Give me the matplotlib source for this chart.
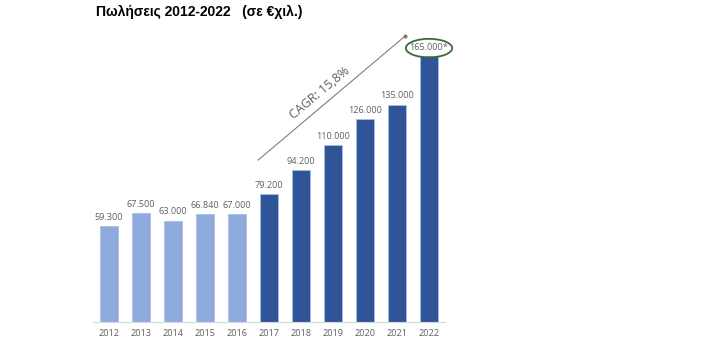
import matplotlib.pyplot as plt
import numpy as np
from matplotlib.patches import Ellipse

# data
years = ["2012", "2013", "2014", "2015", "2016", "2017", "2018", "2019", "2020", "2021", "2022"]
sales = [59300, 67500, 63000, 66840, 67000, 79200, 94200, 110000, 126000, 135000, 165000]
labels = ["59.300", "67.500", "63.000", "66.840", "67.000", "79.200", "94.200",
          "110.000", "126.000", "135.000", "165.000*"]
n_light = 5

LIGHT = "#8faadc"
DARK = "#2f5597"
GREY = "#606060"

plt.rcParams["font.family"] = ["Open Sans", "DejaVu Sans"]

fig = plt.figure(figsize=(7.15, 3.59), dpi=100)
W, H = 715, 359
left, right, bottom, top = 93, 445, 322, 32
ax = fig.add_axes([left / W, 1 - bottom / H, (right - left) / W, (bottom - top) / H])

x = np.arange(len(years))
colors = [LIGHT if i < n_light else DARK for i in range(len(years))]
ax.bar(x, sales, width=0.55, color=colors, edgecolor="#a9bfe6", linewidth=0.6, zorder=2)

for xi, v, lab in zip(x, sales, labels):
    ax.annotate(lab, (xi, v), xytext=(0, 3), textcoords="offset points",
                ha="center", va="bottom", fontsize=6.6, color=GREY)

ax.set_xlim(-0.5, len(years) - 0.5)
ax.set_ylim(0, 180000)
ax.set_xticks(x)
ax.set_xticklabels(years, fontsize=6.6, color=GREY)
ax.tick_params(axis="x", length=0, pad=5)
ax.set_yticks([])
for s in ["left", "right", "top"]:
    ax.spines[s].set_visible(False)
ax.spines["bottom"].set_color("#d9d9d9")
ax.spines["bottom"].set_linewidth(0.8)

# CAGR arrow line
ax.plot([4.66, 9.25], [100500, 177400], color="#8c7b70", linewidth=0.8, zorder=3)
ax.plot([9.25], [177400], marker="o", markersize=2, color="#8c7b70", zorder=3)
ax.text(6.6, 142000, "CAGR: 15,8%", rotation=40, ha="center", va="center",
        fontsize=9, color=GREY, rotation_mode="anchor")

# ellipse around last value
ax.add_patch(Ellipse((10, 170000), 1.45, 11500, fill=False, edgecolor="#3a6b35",
                     linewidth=1.3, zorder=4, clip_on=False))

fig.text(96 / W, 1 - 12 / H, "Πωλήσεις 2012-2022   (σε €χιλ.)", fontsize=10,
         fontweight="bold", family=["Liberation Sans", "DejaVu Sans"],
         ha="left", va="center", color="black")

fig.savefig("out.png", dpi=100)
